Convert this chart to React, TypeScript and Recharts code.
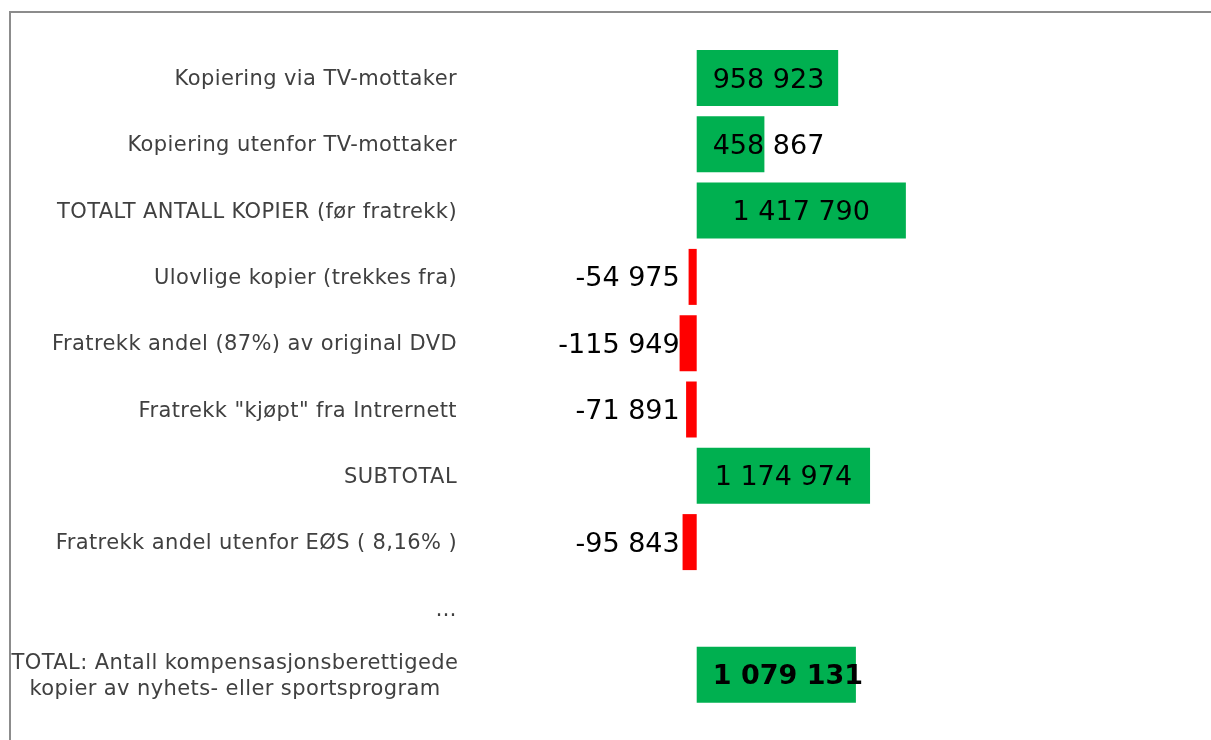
import { BarChart, Bar, XAxis, YAxis, Cell, LabelList } from 'recharts';

const categories = [
    'Kopiering via TV-mottaker',
    'Kopiering utenfor TV-mottaker',
    'TOTALT ANTALL KOPIER (før fratrekk)',
    'Ulovlige kopier (trekkes fra)',
    'Fratrekk andel (87%) av original DVD',
    'Fratrekk "kjøpt" fra Intrernett',
    'SUBTOTAL',
    'Fratrekk andel utenfor EØS ( 8,16% )',
    '…',
    'TOTAL: Antall kompensasjonsberettigede\nkopier av nyhets- eller sportsprogram',
];

const values: (number | null)[] = [958923, 458867, 1417790, -54975, -115949, -71891, 1174974, -95843, null, 1079131];

const data = categories.map((name, i) => ({ name, value: values[i] }));
const totalValue = values[values.length - 1];

const GREEN = '#00B050';
const RED = '#FF0000';
const FONT = '"DejaVu Sans", Verdana, sans-serif';
const LABEL_RIGHT = 449;
const VALUE_SIZE = 27;

function formatValue(v: number) {
    const s = String(Math.abs(v)).replace(/\B(?=(\d{3})+(?!\d))/g, ' ');
    return v < 0 ? '-' + s : s;
}

// rough text width for DejaVu Sans digits / spaces
function textWidth(s: string, bold: boolean) {
    let w = 0;
    for (const ch of s) w += ch === ' ' ? (bold ? 0.348 : 0.318) : bold ? 0.696 : 0.636;
    return w * VALUE_SIZE;
}

interface TickProps {
    x?: number;
    y?: number;
    payload?: { value: string };
}

function CategoryTick({ y, payload }: TickProps) {
    const lines = (payload?.value ?? '').split('\n');
    const common = { fill: '#404040', fontSize: 21, fontFamily: FONT, letterSpacing: 0.4 };
    if (lines.length === 1) {
        return (
            <text x={LABEL_RIGHT} y={y} textAnchor="end" dominantBaseline="central" {...common}>
                {lines[0]}
            </text>
        );
    }
    return (
        <text x={LABEL_RIGHT - 222} y={y} textAnchor="middle" {...common}>
            {lines.map((l, i) => (
                <tspan key={i} x={LABEL_RIGHT - 222} dy={i === 0 ? -6 : 26}>
                    {l}
                </tspan>
            ))}
        </text>
    );
}

interface LabelProps {
    x?: number | string;
    y?: number | string;
    width?: number | string;
    height?: number | string;
    value?: number | string | null;
}

function ValueLabel(props: LabelProps) {
    const { value } = props;
    if (value === null || value === undefined) return null;
    const v = Number(value);
    const x = Number(props.x);
    const w = Number(props.width);
    const y = Number(props.y) + Number(props.height) / 2;
    const left = Math.min(x, x + w);
    const right = Math.max(x, x + w);
    const bold = v === totalValue;
    const txt = formatValue(v);
    if (v >= 0) {
        const cx = Math.max((left + right) / 2, left + 16 + textWidth(txt, bold) / 2);
        return (
            <text x={cx} y={y} textAnchor="middle" dominantBaseline="central" fill="#000" fontSize={VALUE_SIZE} fontWeight={bold ? 'bold' : 'normal'} fontFamily={FONT}>
                {txt}
            </text>
        );
    }
    return (
        <text x={right - 17} y={y} textAnchor="end" dominantBaseline="central" fill="#000" fontSize={VALUE_SIZE} fontFamily={FONT}>
            {txt}
        </text>
    );
}

export default function App() {
    return (
        <div style={{ position: 'relative', width: 1195, height: 724, overflow: 'hidden', background: '#fff' }}>
            <div
                style={{
                    position: 'fixed',
                    left: 9,
                    top: 11,
                    width: 1202,
                    height: 729,
                    boxSizing: 'border-box',
                    borderTop: '2px solid #8c8c8c',
                    borderLeft: '2px solid #8c8c8c',
                }}
            />
            <BarChart
                width={1195}
                height={724}
                data={data}
                layout="vertical"
                margin={{ top: 37, right: 285, bottom: 24, left: 0 }}
                style={{ position: 'absolute', left: 0, top: 0 }}
            >
                <XAxis type="number" domain={[-120000, 1500000]} hide allowDataOverflow />
                <YAxis
                    type="category"
                    dataKey="name"
                    width={671}
                    axisLine={false}
                    tickLine={false}
                    interval={0}
                    tick={<CategoryTick />}
                />
                <Bar dataKey="value" barSize={56} isAnimationActive={false}>
                    {data.map((d, i) => (
                        <Cell key={i} fill={(d.value ?? 0) < 0 ? RED : GREEN} />
                    ))}
                    <LabelList dataKey="value" content={<ValueLabel />} />
                </Bar>
            </BarChart>
        </div>
    );
}
